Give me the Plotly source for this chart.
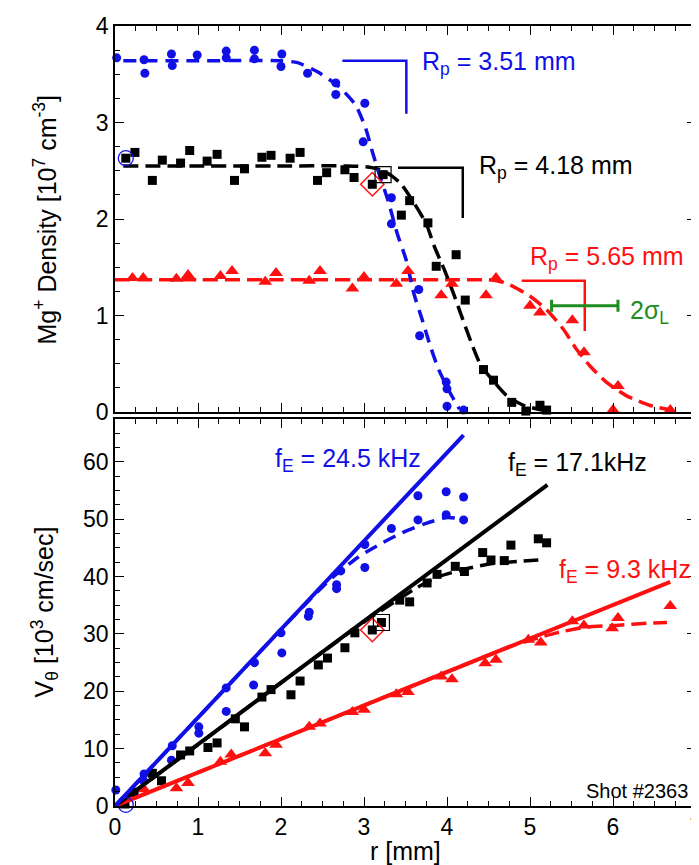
import plotly.graph_objects as go

# ---- top panel: Mg+ density [10^7 cm^-3] vs r [mm] ----
blue_r_top = [0.02, 0.35, 0.36, 0.68, 0.69, 0.99, 1.34, 1.34, 1.68, 1.68, 2.01, 2.00, 2.32,
              2.66, 2.66, 3.01, 2.99, 3.33, 3.33, 3.66, 3.67, 3.99, 4.00, 4.00, 4.20]
blue_n_top = [3.67, 3.65, 3.51, 3.71, 3.59, 3.70, 3.74, 3.67, 3.75, 3.66, 3.71, 3.58, 3.51,
              3.41, 3.29, 3.20, 2.80, 2.22, 1.95, 1.27, 0.79, 0.31, 0.24, 0.06, 0.02]

black_r_top = [0.13, 0.24, 0.45, 0.57, 0.79, 0.90, 1.11, 1.23, 1.44, 1.56, 1.77, 1.88, 2.11,
               2.23, 2.44, 2.55, 2.77, 2.88, 3.10, 3.23, 3.45, 3.55, 3.77, 3.87, 4.11, 4.22,
               4.44, 4.56, 4.78, 4.95, 5.12, 5.20]
black_n_top = [2.63, 2.69, 2.40, 2.61, 2.58, 2.71, 2.60, 2.67, 2.40, 2.52, 2.64, 2.66, 2.63,
               2.69, 2.40, 2.48, 2.51, 2.43, 2.36, 2.46, 2.04, 2.19, 1.96, 1.51, 1.63, 1.16,
               0.44, 0.33, 0.10, 0.01, 0.07, 0.02]

red_r_top = [0.21, 0.34, 0.74, 0.88, 1.27, 1.41, 1.81, 1.94, 2.34, 2.47, 2.86, 3.00, 3.39,
             3.53, 3.93, 4.06, 4.47, 4.59, 5.00, 5.12, 5.51, 5.65, 6.06, 6.00, 6.69]
red_n_top = [1.39, 1.39, 1.38, 1.42, 1.41, 1.46, 1.35, 1.44, 1.36, 1.46, 1.28, 1.40, 1.33,
             1.46, 1.21, 1.33, 1.21, 1.39, 1.10, 1.03, 0.95, 0.62, 0.27, 0.02, 0.02]

# dashed profile fits
blue_fit_r_top = [0.10, 1.0, 2.0, 2.2, 2.45, 2.7, 2.9, 3.02, 3.1, 3.17, 3.29, 3.4, 3.51,
                  3.6, 3.7, 3.8, 3.9, 4.03, 4.15]
blue_fit_n_top = [3.64, 3.64, 3.64, 3.62, 3.52, 3.37, 3.18, 2.94, 2.70, 2.50, 2.19, 1.85,
                  1.57, 1.23, 0.96, 0.68, 0.44, 0.21, 0.03]
black_fit_r_top = [0.10, 1.0, 2.0, 2.8, 3.05, 3.2, 3.33, 3.45, 3.6, 3.75, 3.85, 3.97, 4.09,
                   4.19, 4.31, 4.41, 4.57, 4.72, 4.92, 5.2]
black_fit_n_top = [2.55, 2.55, 2.55, 2.55, 2.54, 2.51, 2.45, 2.36, 2.17, 1.95, 1.71, 1.47,
                   1.20, 0.96, 0.68, 0.48, 0.31, 0.17, 0.07, 0.01]
red_fit_r_top = [0.0, 1.0, 2.0, 3.0, 4.0, 4.5, 4.65, 4.8, 5.0, 5.2, 5.4, 5.56, 5.72, 5.92,
                 6.16, 6.44, 6.7]
red_fit_n_top = [1.37, 1.37, 1.37, 1.37, 1.37, 1.37, 1.35, 1.30, 1.20, 1.06, 0.86, 0.65,
                 0.48, 0.31, 0.17, 0.07, 0.02]

# R_p brackets and 2 sigma_L bar
blue_bracket_r = [2.74, 3.51, 3.51]
blue_bracket_n = [3.64, 3.64, 3.09]
black_bracket_r = [3.41, 4.19, 4.19]
black_bracket_n = [2.53, 2.53, 2.01]
red_bracket_r = [4.90, 5.66, 5.66]
red_bracket_n = [1.36, 1.36, 0.84]
sigma_center = [5.66]
sigma_level = [1.10]
sigma_half = [0.40]

# ---- bottom panel: V_theta [10^3 cm/sec] vs r [mm] ----
blue_r_bot = [0.01, 0.34, 0.35, 0.68, 0.69, 1.01, 1.01, 1.34, 1.34, 1.67, 1.68, 2.00, 2.01,
              2.33, 2.34, 2.67, 2.67, 2.72, 3.01, 3.01, 3.33, 3.65, 3.65, 3.99, 3.99, 4.20, 4.20]
blue_v_bot = [2.8, 4.5, 5.6, 8.0, 10.5, 12.7, 13.8, 16.5, 20.6, 21.1, 25.0, 30.2, 26.7,
              33.1, 33.8, 37.9, 38.6, 41.0, 41.6, 45.6, 48.4, 49.9, 54.1, 50.8, 54.8, 49.9, 53.9]

black_r_bot = [0.12, 0.23, 0.45, 0.56, 0.79, 0.90, 1.12, 1.23, 1.45, 1.56, 1.77, 1.88, 2.12,
               2.23, 2.45, 2.56, 2.77, 2.89, 3.10, 3.21, 3.43, 3.55, 3.76, 3.88, 4.10, 4.21,
               4.43, 4.53, 4.69, 4.77, 5.10, 5.20]
black_v_bot = [0.35, 2.4, 5.7, 4.4, 8.9, 9.6, 10.2, 11.0, 15.2, 13.8, 19.0, 20.3, 19.4,
               21.8, 24.6, 25.8, 27.6, 30.2, 30.7, 32.0, 35.9, 35.6, 38.9, 40.4, 41.8, 40.9,
               44.2, 42.9, 42.8, 45.5, 46.6, 45.9]

red_r_bot = [0.21, 0.35, 0.74, 0.88, 1.27, 1.40, 1.81, 1.94, 2.34, 2.47, 2.86, 3.00, 3.39,
             3.53, 3.93, 4.06, 4.46, 4.59, 4.98, 5.13, 5.51, 5.65, 5.99, 6.06, 6.69]
red_v_bot = [2.0, 2.9, 3.1, 4.0, 7.7, 9.0, 9.2, 10.7, 13.8, 14.4, 16.4, 16.8, 19.5,
             19.9, 22.6, 22.1, 24.9, 25.5, 29.0, 28.5, 32.2, 31.5, 31.0, 32.8, 34.9]

# rigid rotation lines (solid) and measured trends (dashed)
blue_line_r = [0.0, 4.20]
blue_line_v = [0.0, 64.7]
black_line_r = [0.0, 5.21]
black_line_v = [0.0, 56.0]
red_line_r = [0.0, 6.69]
red_line_v = [0.0, 39.1]

blue_dash_r = [0.0, 1.0, 2.0, 2.6, 2.94, 3.21, 3.45, 3.73, 4.0, 4.2]
blue_dash_v = [0.0, 15.4, 30.8, 39.6, 43.5, 45.8, 47.6, 49.2, 50.3, 50.0]
black_dash_r = [0.0, 1.0, 2.0, 3.0, 3.4, 3.65, 3.9, 4.3, 4.55, 4.8, 5.1]
black_dash_v = [0.0, 10.7, 21.5, 32.1, 35.9, 38.2, 40.0, 41.6, 42.3, 42.6, 42.9]
red_dash_r = [0.0, 2.0, 4.0, 4.8, 5.12, 5.32, 5.68, 6.04, 6.44, 6.65]
red_dash_v = [0.0, 11.7, 23.4, 28.0, 29.4, 30.2, 31.2, 31.5, 31.9, 32.0]

# highlighted points
circle_pt = dict(r_top=[0.13], n_top=[2.63], r_bot=[0.13], v_bot=[0.2])
diamond_pt = dict(r_top=[3.10], n_top=[2.36], r_bot=[3.10], v_bot=[30.7])
square_pt = dict(r_top=[3.23], n_top=[2.46], r_bot=[3.21], v_bot=[32.0])

BLUE = "#1010E6"
RED = "#FF1010"
GREEN = "#1E8C1E"
BLACK = "#000000"
FONT = "Liberation Sans, Arial, Helvetica, sans-serif"

fig = go.Figure()


def dots(x, y, color, symbol, size, xa, ya):
    fig.add_trace(go.Scatter(x=x, y=y, mode="markers", xaxis=xa, yaxis=ya,
                             marker=dict(color=color, symbol=symbol, size=size, line_width=0),
                             cliponaxis=False, showlegend=False))


def curve(x, y, color, width, dash, xa, ya, shape="linear"):
    fig.add_trace(go.Scatter(x=x, y=y, mode="lines", xaxis=xa, yaxis=ya,
                             line=dict(color=color, width=width, dash=dash, shape=shape,
                                       smoothing=0.6),
                             cliponaxis=False, showlegend=False))


# top panel
curve(red_fit_r_top, red_fit_n_top, RED, 3.5, "15px,7px", "x", "y", "spline")
curve(black_fit_r_top, black_fit_n_top, BLACK, 3.5, "15px,7px", "x", "y", "spline")
curve(blue_fit_r_top, blue_fit_n_top, BLUE, 3.5, "13px,8px", "x", "y", "spline")
dots(red_r_top, red_n_top, RED, "triangle-up", 12, "x", "y")
dots(black_r_top, black_n_top, BLACK, "square", 9, "x", "y")
dots(blue_r_top, blue_n_top, BLUE, "circle", 9, "x", "y")

curve(blue_bracket_r, blue_bracket_n, BLUE, 2.5, "solid", "x", "y")
curve(black_bracket_r, black_bracket_n, BLACK, 2.5, "solid", "x", "y")
curve(red_bracket_r, red_bracket_n, RED, 2.5, "solid", "x", "y")
fig.add_trace(go.Scatter(x=sigma_center, y=sigma_level, mode="markers", xaxis="x", yaxis="y",
                         marker=dict(size=1, color="rgba(0,0,0,0)"),
                         error_x=dict(type="data", array=sigma_half, color=GREEN,
                                      thickness=3, width=6),
                         showlegend=False))

# bottom panel
curve(red_dash_r, red_dash_v, RED, 3.5, "15px,7px", "x2", "y2", "spline")
curve(black_dash_r, black_dash_v, BLACK, 3.5, "15px,7px", "x2", "y2", "spline")
curve(blue_dash_r, blue_dash_v, BLUE, 3.5, "13px,8px", "x2", "y2", "spline")
dots(red_r_bot, red_v_bot, RED, "triangle-up", 12, "x2", "y2")
dots(black_r_bot, black_v_bot, BLACK, "square", 9, "x2", "y2")
dots(blue_r_bot, blue_v_bot, BLUE, "circle", 9, "x2", "y2")
curve(red_line_r, red_line_v, RED, 4, "solid", "x2", "y2")
curve(black_line_r, black_line_v, BLACK, 4, "solid", "x2", "y2")
curve(blue_line_r, blue_line_v, BLUE, 4, "solid", "x2", "y2")

# highlighted open markers
for xa, ya, key_r, key_v in [("x", "y", "r_top", "n_top"), ("x2", "y2", "r_bot", "v_bot")]:
    fig.add_trace(go.Scatter(x=circle_pt[key_r], y=circle_pt[key_v], mode="markers",
                             xaxis=xa, yaxis=ya, cliponaxis=False, showlegend=False,
                             marker=dict(symbol="circle-open", size=15, color=BLUE,
                                         line=dict(width=1.3, color=BLUE))))
    fig.add_trace(go.Scatter(x=diamond_pt[key_r], y=diamond_pt[key_v], mode="markers",
                             xaxis=xa, yaxis=ya, cliponaxis=False, showlegend=False,
                             marker=dict(symbol="diamond-open", size=18, color=RED,
                                         line=dict(width=1.5, color=RED))))
    fig.add_trace(go.Scatter(x=square_pt[key_r], y=square_pt[key_v], mode="markers",
                             xaxis=xa, yaxis=ya, cliponaxis=False, showlegend=False,
                             marker=dict(symbol="square-open", size=16, color=BLACK,
                                         line=dict(width=1.2, color=BLACK))))

label_size = 25
notes = [
    ("x", "y", 3.67, 3.62, "R<sub>p</sub> = 3.51 mm", BLUE),
    ("x", "y", 4.36, 2.54, "R<sub>p</sub> = 4.18 mm", BLACK),
    ("x", "y", 4.98, 1.60, "R<sub>p</sub> = 5.65 mm", RED),
    ("x", "y", 6.18, 1.04, "2σ<sub>L</sub>", GREEN),
    ("x2", "y2", 1.90, 60.3, "f<sub>E</sub> = 24.5 kHz", BLUE),
    ("x2", "y2", 4.71, 59.7, "f<sub>E</sub> = 17.1kHz", BLACK),
    ("x2", "y2", 5.33, 41.0, "f<sub>E</sub> = 9.3 kHz", RED),
]
for xr, yr, x, y, txt, col in notes:
    fig.add_annotation(x=x, y=y, xref=xr, yref=yr, text=txt, showarrow=False,
                       xanchor="left", yanchor="middle",
                       font=dict(size=label_size, color=col, family=FONT))

fig.add_annotation(x=6.93, y=2.6, xref="x2", yref="y2", text="Shot #2363", showarrow=False,
                   xanchor="right", yanchor="middle", font=dict(size=20, color=BLACK, family=FONT))

# axis titles
fig.add_annotation(x=0, y=0.7519, xref="paper", yref="paper", xshift=-70, textangle=-90,
                   text="Mg<sup>+</sup> Density [10<sup>7</sup> cm<sup>-3</sup>]",
                   showarrow=False, xanchor="center", yanchor="middle",
                   font=dict(size=25, color=BLACK, family=FONT))
fig.add_annotation(x=0, y=0.2481, xref="paper", yref="paper", xshift=-70, textangle=-90,
                   text="V<sub>θ</sub> [10<sup>3</sup> cm/sec]",
                   showarrow=False, xanchor="center", yanchor="middle",
                   font=dict(size=25, color=BLACK, family=FONT))
fig.add_annotation(x=0.5, y=0, xref="paper", yref="paper", yshift=-45,
                   text="r [mm]", showarrow=False, xanchor="center", yanchor="middle",
                   font=dict(size=25, color=BLACK, family=FONT))

axis_common = dict(showline=True, linecolor=BLACK, linewidth=1.5, mirror="allticks",
                   ticks="inside", ticklen=9, tickwidth=1.3, tickcolor=BLACK,
                   showgrid=False, zeroline=False, ticklabeloverflow="allow",
                   tickfont=dict(size=23, color=BLACK, family=FONT))

fig.update_layout(
    width=699, height=865,
    margin=dict(l=107, r=5, t=10, b=67),
    paper_bgcolor="white", plot_bgcolor="white",
    font=dict(family=FONT, color=BLACK),
    showlegend=False,
    xaxis=dict(domain=[0, 1], anchor="y", range=[0, 7], dtick=1, showticklabels=False,
               minor=dict(dtick=0.25, ticklen=5, ticks="inside", tickcolor=BLACK), **axis_common),
    yaxis=dict(domain=[0.5051, 1], anchor="x", range=[0, 4], dtick=1,
               minor=dict(dtick=0.25, ticklen=5, ticks="inside", tickcolor=BLACK), **axis_common),
    xaxis2=dict(domain=[0, 1], anchor="y2", range=[0, 7], dtick=1,
                minor=dict(dtick=0.25, ticklen=5, ticks="inside", tickcolor=BLACK), **axis_common),
    yaxis2=dict(domain=[0, 0.4962], anchor="x2", range=[0, 67.5], dtick=10,
                minor=dict(dtick=2.5, ticklen=5, ticks="inside", tickcolor=BLACK), **axis_common),
)

fig.write_html("out.html")
